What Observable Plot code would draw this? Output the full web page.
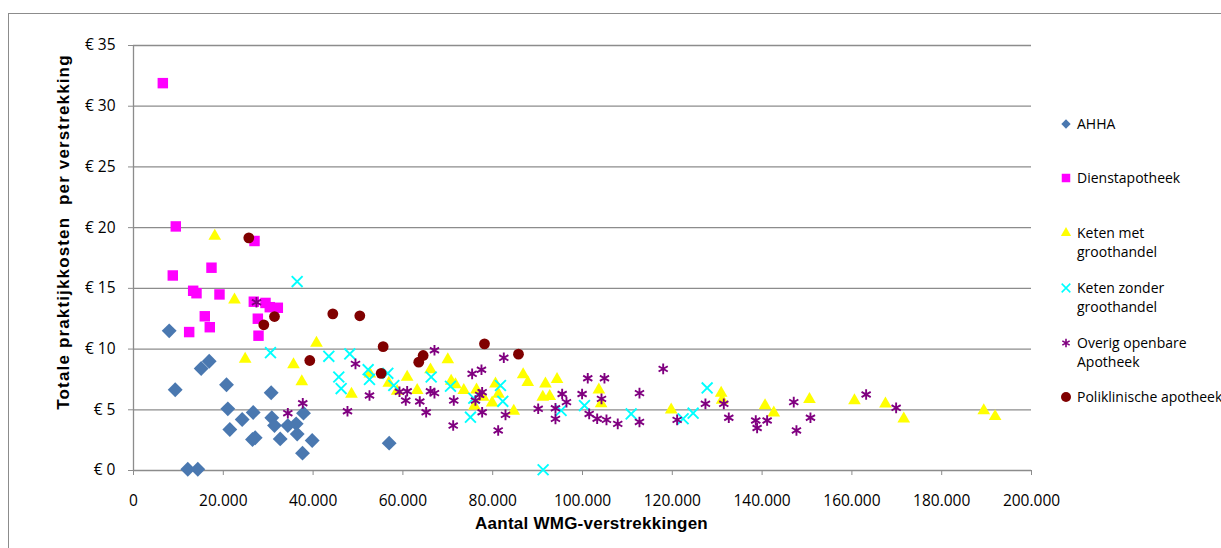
<!DOCTYPE html>
<html>
<head>
<meta charset="utf-8">
<script src="https://cdn.jsdelivr.net/npm/d3@7"></script>
<script src="https://cdn.jsdelivr.net/npm/@observablehq/plot@0.6"></script>
<style>
  html, body { margin: 0; padding: 0; background: #fff; }
  #wrap { position: relative; width: 1221px; height: 548px; overflow: hidden; background: #fff; }
  #frame { position: absolute; left: 8px; top: 13px; width: 1300px; height: 700px; border: 1px solid #8c8c8c; box-sizing: border-box; pointer-events: none; }
  #chart { position: absolute; left: 0; top: 0; }
  .lg { position: absolute; font-family: "Open Sans", sans-serif; font-size: 14px; line-height: 19px; color: #000; white-space: nowrap; }
  .lgm { position: absolute; }
</style>
</head>
<body>
<div id="wrap">
  <div id="chart"></div>
  <div id="frame"></div>
  <div id="legend"></div>
</div>
<script>
// ---- data (x = Aantal WMG-verstrekkingen, y = totale praktijkkosten per verstrekking in €) ----
const seriesNames = ["AHHA", "Dienstapotheek", "Keten met groothandel", "Keten zonder groothandel", "Overig openbare Apotheek", "Poliklinische apotheek"];
const legendLines = [["AHHA"], ["Dienstapotheek"], ["Keten met", "groothandel"], ["Keten zonder", "groothandel"], ["Overig openbare", "Apotheek"], ["Poliklinische apotheek"]];

const ahha = [[7950,11.5],[16860,9.0],[15070,8.4],[9290,6.65],[20710,7.06],[30660,6.4],[21010,5.08],[26660,4.78],[24210,4.2],[30800,4.34],[31400,3.7],[21450,3.38],[26500,2.55],[27100,2.7],[32670,2.6],[34370,3.7],[36230,3.84],[36460,3.0],[37860,4.72],[39800,2.47],[37640,1.43],[12090,0.1],[14320,0.1],[56940,2.25]];
const dienst = [[6530,31.9],[9420,20.1],[26950,18.9],[17370,16.7],[8750,16.06],[13290,14.8],[14030,14.6],[19150,14.5],[26800,13.9],[29400,13.8],[30350,13.45],[32140,13.4],[27690,12.5],[27840,11.1],[15880,12.7],[16990,11.8],[12400,11.4]];
const ketenMet = [[18100,19.3],[22490,14.05],[24870,9.17],[40750,10.5],[35630,8.73],[37480,7.33],[48550,6.3],[52630,7.96],[56860,7.2],[58720,6.53],[60950,7.7],[63180,6.6],[66140,8.3],[70000,9.14],[70750,7.36],[71710,7.08],[73560,6.6],[76390,6.65],[75940,5.3],[77870,6.04],[79880,5.57],[80620,7.14],[81290,6.3],[84690,4.9],[86780,7.9],[87810,7.27],[91750,7.14],[91150,6.04],[92700,6.1],[94330,7.5],[103640,6.64],[104140,5.5],[119750,5.0],[130880,6.37],[131100,5.8],[140660,5.35],[142600,4.75],[150550,5.87],[160570,5.76],[167470,5.49],[171550,4.26],[189370,4.94],[191900,4.45]];
const ketenZonder = [[36450,15.56],[30510,9.7],[43500,9.4],[48170,9.6],[45720,7.7],[46250,6.75],[52260,8.3],[52560,7.5],[56640,8.0],[57970,7.0],[66300,7.7],[70600,6.94],[75790,5.95],[75050,4.39],[81730,7.0],[82250,5.7],[91230,0.06],[95230,4.94],[100440,5.35],[110840,4.66],[122410,4.26],[124640,4.72],[127760,6.8]];
const overig = [[27390,13.86],[34370,4.72],[37700,5.54],[67030,9.9],[49440,8.78],[47660,4.88],[52560,6.18],[59240,6.48],[60950,6.53],[60640,5.76],[63760,5.68],[65180,4.8],[66140,6.53],[67030,6.37],[71330,5.76],[71200,3.7],[75420,7.96],[77500,8.3],[82470,9.28],[77650,6.45],[77100,6.23],[76160,5.76],[77650,4.8],[81220,3.3],[82850,4.58],[90130,5.08],[93980,5.13],[93980,4.25],[95470,6.3],[96430,5.63],[99910,6.3],[101170,7.6],[104230,5.9],[104890,7.6],[101490,4.66],[103270,4.26],[105340,4.17],[107850,3.84],[112690,6.37],[112690,4.0],[117970,8.37],[121080,4.17],[127380,5.49],[131470,5.49],[132580,4.34],[138590,4.12],[138890,3.5],[141120,4.12],[147050,5.63],[147650,3.3],[150770,4.34],[163170,6.26],[169850,5.16]];
const poli = [[25680,19.16],[31400,12.68],[29020,12.0],[44390,12.9],[50400,12.74],[55600,10.2],[39260,9.06],[64510,9.47],[63530,8.92],[55160,8.0],[78170,10.43],[85740,9.58]];

const xTicks = [0, 20000, 40000, 60000, 80000, 100000, 120000, 140000, 160000, 180000, 200000];
const yTicks = [0, 5, 10, 15, 20, 25, 30, 35];
const xTitle = "Aantal WMG-verstrekkingen";
const yTitle = "Totale praktijkkosten\u00a0 per verstrekking";

// ---- styling ----
const styles = [
  {symbol: "diamond2", color: "#4a78b0", r: 6.7, filled: true, lr: 4.2},
  {symbol: "square",   color: "#ff00ff", r: 5.9, filled: true, lr: 4.8},
  {symbol: "triangle", color: "#ffff00", r: 4.7, filled: true, lr: 3.8},
  {symbol: "times",    color: "#00ffff", r: 5.0, filled: false, lr: 4.0},
  {symbol: "asterisk", color: "#800080", r: 5.0, filled: false, lr: 4.0},
  {symbol: "circle",   color: "#800000", r: 5.4, filled: true, lr: 5.0}
];
const allSeries = [ahha, dienst, ketenMet, ketenZonder, overig, poli];

const nl = d3.formatLocale({decimal: ",", thousands: ".", grouping: [3], currency: ["€ ", ""]});
const fmtX = nl.format(",d");

const dotMarks = allSeries.map((data, i) => {
  const s = styles[i];
  const opts = {x: d => d[0], y: d => d[1], symbol: () => s.symbol, r: s.r};
  if (s.filled) { opts.fill = s.color; opts.stroke = "none"; }
  else { opts.fill = "none"; opts.stroke = s.color; opts.strokeWidth = 1.9; }
  return Plot.dot(data, opts);
});

const chart = Plot.plot({
  width: 1221,
  height: 548,
  marginLeft: 133,
  marginRight: 190,
  marginTop: 45,
  marginBottom: 78,
  x: {domain: [0, 200000]},
  y: {domain: [0, 35]},
  symbol: {type: "identity"},
  style: {fontFamily: "'Open Sans', sans-serif", fontSize: "15.5px", color: "#000", background: "transparent"},
  marks: [
    Plot.gridY(yTicks, {stroke: "#8c8c8c", strokeOpacity: 1, strokeWidth: 1.3}),
    Plot.ruleX([0], {stroke: "#8c8c8c", strokeWidth: 1.3}),
    Plot.axisY(yTicks, {tickSize: 5, tickPadding: 13, tickFormat: d => "€ " + d, stroke: "#8c8c8c", label: null, fill: "#000"}),
    Plot.axisX(xTicks, {tickSize: 5, tickPadding: 19, tickFormat: fmtX, stroke: "#8c8c8c", label: null, fill: "#000"}),
    ...dotMarks,
    Plot.text([xTitle], {frameAnchor: "bottom", textAnchor: "middle", dx: 9, dy: 58, fontWeight: "bold", fontSize: 17, fontFamily: "'Liberation Sans', Arial, sans-serif", fill: "#000"}),
    Plot.text([yTitle], {frameAnchor: "left", textAnchor: "middle", rotate: -90, dx: -70, dy: -26, fontWeight: "bold", fontSize: 17, fontFamily: "'Liberation Sans', Arial, sans-serif", fill: "#000"})
  ]
});
// stretch the axis titles slightly, as in the original
d3.select(chart).selectAll("text").each(function () {
  if (this.textContent === yTitle) d3.select(this).style("letter-spacing", "1.15px");
  if (this.textContent === xTitle) d3.select(this).style("letter-spacing", "0.25px");
});
document.getElementById("chart").appendChild(chart);

// ---- legend ----
const legendTops = [124, 178, 233, 288, 343, 397];
const legend = document.getElementById("legend");
const typeMap = {diamond2: d3.symbolDiamond2, square: d3.symbolSquare, triangle: d3.symbolTriangle, times: d3.symbolTimes, asterisk: d3.symbolAsterisk, circle: d3.symbolCircle};
seriesNames.forEach((name, i) => {
  const s = styles[i];
  const cy = legendTops[i];
  const sz = 14;
  const svg = d3.create("svg").attr("width", sz).attr("height", sz).attr("class", "lgm")
    .style("left", (1066 - sz / 2) + "px").style("top", (cy - sz / 2) + "px");
  const area = Math.PI * s.lr ** 2;
  const p = svg.append("path").attr("transform", `translate(${sz/2},${sz/2})`).attr("d", d3.symbol(typeMap[s.symbol], area)());
  if (s.filled) p.attr("fill", s.color); else p.attr("fill", "none").attr("stroke", s.color).attr("stroke-width", 1.6);
  legend.appendChild(svg.node());
  const div = document.createElement("div");
  div.className = "lg";
  div.style.left = "1077px";
  div.style.top = (cy - 10) + "px";
  div.innerHTML = legendLines[i].join("<br>");
  legend.appendChild(div);
});
</script>
</body>
</html>
